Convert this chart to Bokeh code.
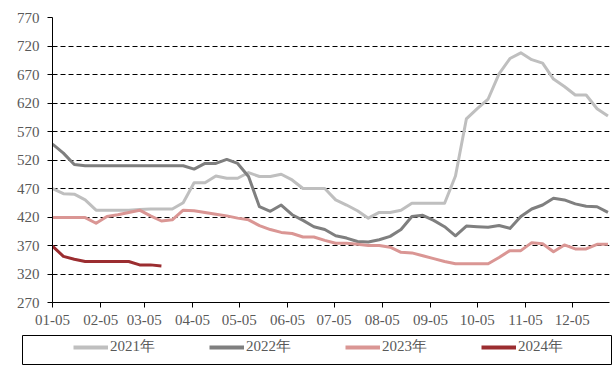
import pandas as pd
from bokeh.plotting import figure
from bokeh.layouts import column, row
from bokeh.models import FixedTicker, Legend, LegendItem, Range1d
from bokeh.embed import file_html
from bokeh.resources import INLINE

# ---- data ----
week_dates = pd.date_range("2021-01-05", periods=52, freq="7D")
s2021 = [470, 461, 460, 450, 432, 432, 432, 432, 433, 434, 434, 434, 445, 480, 480, 492,
         488, 488, 498, 491, 491, 495, 485, 470, 470, 470, 450, 441, 431, 418, 428, 428,
         432, 444, 444, 444, 444, 492, 592, 610, 627, 671, 698, 708, 696, 690, 662, 649,
         634, 634, 610, 597]
s2022 = [548, 532, 512, 510, 510, 510, 510, 510, 510, 510, 510, 510, 510, 504, 514, 514,
         521, 514, 491, 438, 430, 441, 424, 414, 403, 398, 387, 383, 377, 376, 380, 386,
         398, 421, 423, 414, 403, 387, 404, 403, 402, 405, 400, 421, 434, 441, 453, 450,
         443, 439, 438, 428]
s2023 = [419, 419, 419, 419, 409, 421, 424, 428, 432, 422, 413, 415, 432, 431, 428, 425,
         422, 418, 415, 405, 398, 393, 391, 385, 385, 379, 374, 374, 372, 370, 370, 367,
         358, 357, 352, 347, 342, 338, 338, 338, 338, 349, 361, 361, 375, 373, 359, 371,
         364, 364, 372, 372]
s2024 = [369, 351, 346, 342, 342, 342, 342, 342, 336, 336, 334]
series_names = ["2021年", "2022年", "2023年", "2024年"]
series_colors = ["#BFBFBF", "#7F7F7F", "#DA9694", "#9B2D30"]
x_tick_labels = ["01-05", "02-05", "03-05", "04-05", "05-05", "06-05",
                 "07-05", "08-05", "09-05", "10-05", "11-05", "12-05"]
y_ticks = [270, 320, 370, 420, 470, 520, 570, 620, 670, 720, 770]

x_days = list(week_dates.dayofyear)
tick_days = [pd.Timestamp("2021-" + t).dayofyear for t in x_tick_labels]

FONT = "Liberation Serif"
TXT = "#595959"
W = 612

p = figure(width=W, height=334, output_backend="svg", toolbar_location=None,
           x_range=Range1d(tick_days[0], x_days[-1] + 1), y_range=Range1d(270, 770),
           min_border_left=52, min_border_right=W - 609, min_border_top=17, min_border_bottom=32)
p.outline_line_color = None
p.background_fill_color = "white"
p.border_fill_color = "white"

# axes
p.xaxis.ticker = FixedTicker(ticks=tick_days)
p.xaxis.major_label_overrides = {d: l for d, l in zip(tick_days, x_tick_labels)}
p.yaxis.ticker = FixedTicker(ticks=y_ticks)
for ax in (p.xaxis[0], p.yaxis[0]):
    ax.axis_line_color = "black"
    ax.axis_line_width = 1
    ax.major_tick_line_color = "black"
    ax.minor_tick_line_color = None
    ax.major_tick_in = 0
    ax.major_label_text_font = FONT
    ax.major_label_text_font_size = "15px"
    ax.major_label_text_color = TXT
p.xaxis.major_tick_out = 5
p.yaxis.major_tick_out = 5
p.xaxis.major_label_standoff = 7
p.yaxis.major_label_standoff = 8

p.xgrid.grid_line_color = None
p.ygrid.grid_line_color = "black"
p.ygrid.grid_line_dash = "5 3"
p.ygrid.grid_line_width = 1

for vals, col in zip([s2021, s2022, s2023, s2024], series_colors):
    p.line(x_days[:len(vals)], vals, line_color=col, line_width=3, line_join="round")

# ---- legend strip (its frame outline is the legend box) ----
lg = figure(width=W, height=32, output_backend="svg", toolbar_location=None,
            x_range=Range1d(0, 1), y_range=Range1d(0, 1),
            x_axis_type=None, y_axis_type=None,
            min_border_left=22, min_border_right=W - 611, min_border_top=1, min_border_bottom=2)
lg.outline_line_color = "black"
lg.outline_line_width = 1
lg.xgrid.grid_line_color = None
lg.ygrid.grid_line_color = None
lg.border_fill_color = "white"

items = []
for name, col in zip(series_names, series_colors):
    # proxy renderer placed outside the visible range; only its legend glyph is seen
    r = lg.line([-5, -4], [-5, -4], line_color=col, line_width=4)
    items.append(LegendItem(label=name, renderers=[r]))

legend = Legend(items=items, location=(51, 8), orientation="horizontal",
                padding=0, margin=0, spacing=40, glyph_width=35, glyph_height=14,
                label_width=59, label_height=14, label_standoff=2,
                label_text_font=FONT, label_text_font_size="15px", label_text_color=TXT,
                border_line_color=None, background_fill_alpha=0)
lg.add_layout(legend, "center")

layout = column(p, row(lg, spacing=0), spacing=0)
open("out.html", "w").write(file_html(layout, INLINE))
